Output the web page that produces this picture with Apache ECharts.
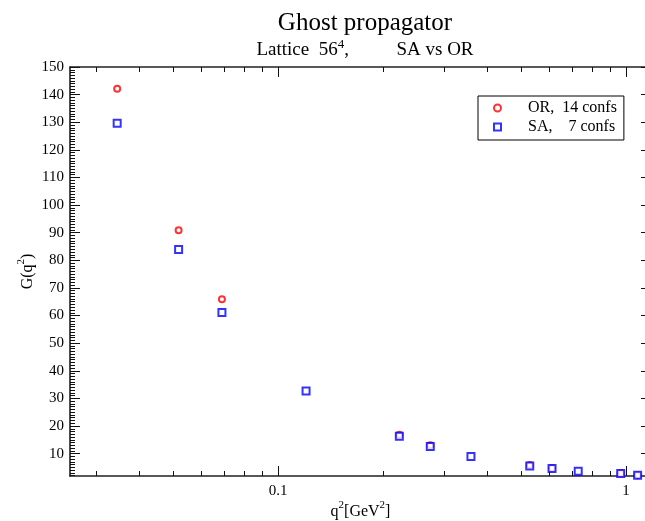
<!DOCTYPE html>
<html><head><meta charset="utf-8">
<script src="https://cdn.jsdelivr.net/npm/echarts@6/dist/echarts.min.js"></script>
<style>html,body{margin:0;padding:0;background:#fff}#c{width:645px;height:521px}</style>
</head><body><div id="c"></div>
<script>
// Data
const orQ2 = [0.0345, 0.0518, 0.0690, 0.2232, 0.2739, 0.529, 0.613, 0.9656, 1.080];
const orG  = [142.1, 90.9, 65.9, 16.8, 13.0, 5.9, 4.7, 2.9, 2.2];
const saQ2 = [0.0345, 0.0518, 0.0690, 0.1204, 0.2232, 0.2739, 0.3585, 0.529, 0.613, 0.729, 0.9656, 1.080];
const saG  = [129.6, 83.9, 61.1, 32.7, 16.3, 12.6, 9.0, 5.5, 4.6, 3.6, 2.8, 2.2];
const seriesNames = ['OR,  14 confs', 'SA,    7 confs'];
const xMajorTicks = [0.1, 1];
const xMinorTicks = [0.03, 0.04, 0.05, 0.06, 0.07, 0.08, 0.09, 0.2, 0.3, 0.4, 0.5, 0.6, 0.7, 0.8, 0.9];
const yMajorTicks = [10, 20, 30, 40, 50, 60, 70, 80, 90, 100, 110, 120, 130, 140, 150];
const yMinorTicks = [2,3,4,5,6,7,8,9,10,11,12,13,14,15,16,17,18,19,20,21,22,23,24,25,26,27,28,29,30,31,32,33,34,35,36,37,38,39,40,41,42,43,44,45,46,47,48,49,50,51,52,53,54,55,56,57,58,59,60,61,62,63,64,65,66,67,68,69,70,71,72,73,74,75,76,77,78,79,80,81,82,83,84,85,86,87,88,89,90,91,92,93,94,95,96,97,98,99,100,101,102,103,104,105,106,107,108,109,110,111,112,113,114,115,116,117,118,119,120,121,122,123,124,125,126,127,128,129,130,131,132,133,134,135,136,137,138,139,140,141,142,143,144,145,146,147,148,149,150];

const FONT = '"Liberation Serif", "DejaVu Serif", serif';
const X_MIN = 0.02525, X_MAX = 1.18, Y_MIN = 1.9, Y_MAX = 150;

function xAx(pos, ticks, len, showLabel, showLine, extra) {
  return Object.assign({
    type: 'log', logBase: 10, min: X_MIN, max: X_MAX, position: pos,
    axisLine: { show: showLine, onZero: false, lineStyle: { color: '#222', width: 1.5 } },
    axisTick: { show: true, inside: true, length: len, customValues: ticks, lineStyle: { color: '#111', width: 1 } },
    axisLabel: showLabel ? { show: true, customValues: ticks, fontFamily: FONT, fontSize: 15, color: '#000', margin: 8,
      formatter: v => String(+Number(v).toPrecision(3)) } : { show: false },
    splitLine: { show: false }, minorTick: { show: false }
  }, extra || {});
}
function yAx(pos, ticks, len, showLabel, showLine, extra) {
  return Object.assign({
    type: 'value', min: Y_MIN, max: Y_MAX, position: pos,
    axisLine: { show: showLine, onZero: false, lineStyle: { color: '#111', width: 1.5 } },
    axisTick: { show: true, inside: true, length: len, customValues: ticks, lineStyle: { color: '#111', width: 1 } },
    axisLabel: showLabel ? { show: true, customValues: ticks, fontFamily: FONT, fontSize: 15, color: '#000', margin: 6 } : { show: false },
    splitLine: { show: false }
  }, extra || {});
}

const chart = echarts.init(document.getElementById('c'), null, { renderer: 'canvas' });
chart.setOption({
  backgroundColor: '#fff',
  animation: false,
  title: [
    { text: 'Ghost propagator', left: 360, top: 6, textAlign: 'center',
      textStyle: { fontFamily: FONT, fontSize: 25, fontWeight: 'normal', color: '#000' } },
    { text: '{a|Lattice  56}{s|4}{a|,          SA vs OR}', left: 360, top: 33, textAlign: 'center',
      textStyle: { fontWeight: 'normal', rich: {
        a: { fontFamily: FONT, fontSize: 19, fontWeight: 'normal', color: '#000', lineHeight: 22, verticalAlign: 'bottom' },
        s: { fontFamily: FONT, fontSize: 13, fontWeight: 'normal', color: '#000', lineHeight: 22, verticalAlign: 'top', padding: [0, 0, 12, 0] }
      } } }
  ],
  legend: {
    data: [{ name: seriesNames[0], icon: 'emptyCircle' }, { name: seriesNames[1], icon: 'emptyRect' }],
    orient: 'vertical', left: 478, top: 96,
    itemWidth: 7, itemHeight: 7, itemGap: 1, padding: [3, 7, 4, 15],
    borderColor: '#000', borderWidth: 1, backgroundColor: '#fff',
    textStyle: { fontFamily: FONT, fontSize: 16, color: '#000', lineHeight: 18, padding: [0, 0, 0, 22] }
  },
  grid: { left: 70, width: 581, top: 67, bottom: 45, containLabel: false, outerBoundsMode: 'none' },
  xAxis: [
    xAx('bottom', xMajorTicks, 10, true, true, {
      name: '{a|q}{s|2}{a|[GeV}{s|2}{a|]}', nameLocation: 'middle', nameGap: 24, nameMoveOverlap: false,
      nameTextStyle: { rich: {
        a: { fontFamily: FONT, fontSize: 16, color: '#000', lineHeight: 20, verticalAlign: 'bottom' },
        s: { fontFamily: FONT, fontSize: 11, color: '#000', lineHeight: 20, verticalAlign: 'top' }
      } } }),
    xAx('bottom', xMinorTicks, 5, false, false),
    xAx('top', xMajorTicks, 10, false, true),
    xAx('top', xMinorTicks, 5, false, false)
  ],
  yAxis: [
    yAx('left', yMajorTicks, 10, true, true, {
      name: '{a|G(q}{s|2}{a|)}', nameLocation: 'middle', nameGap: 34, nameRotate: 90, nameMoveOverlap: false,
      nameTextStyle: { rich: {
        a: { fontFamily: FONT, fontSize: 16, color: '#000', lineHeight: 20, verticalAlign: 'bottom' },
        s: { fontFamily: FONT, fontSize: 11, color: '#000', lineHeight: 20, verticalAlign: 'top' }
      } } }),
    yAx('left', yMinorTicks, 5, false, false),
    yAx('right', yMajorTicks, 10, false, true),
    yAx('right', yMinorTicks, 5, false, false)
  ],
  series: [
    { name: seriesNames[0], type: 'scatter', xAxisIndex: 0, yAxisIndex: 0,
      symbol: 'emptyCircle', symbolSize: 6,
      itemStyle: { color: '#ff0000', borderColor: '#ff0000', borderWidth: 1.5 },
      data: orQ2.map((x, i) => [x, orG[i]]) },
    { name: seriesNames[1], type: 'scatter', xAxisIndex: 0, yAxisIndex: 0,
      symbol: 'emptyRect', symbolSize: 7,
      itemStyle: { color: '#0000ff', borderColor: '#0000ff', borderWidth: 1.5 },
      data: saQ2.map((x, i) => [x, saG[i]]) }
  ]
});
</script></body></html>
